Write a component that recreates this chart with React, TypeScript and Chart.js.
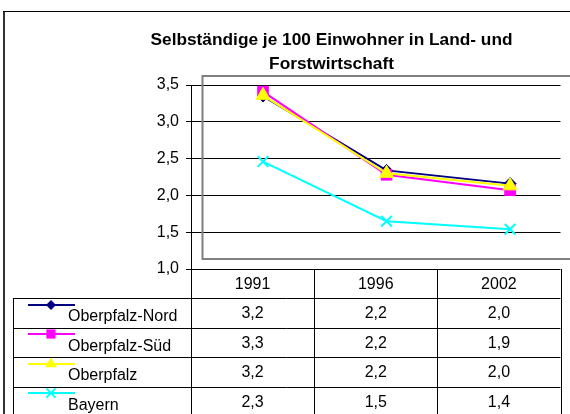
import React, { useEffect, useRef } from "react";
import { Chart, registerables } from "chart.js";

Chart.register(...registerables);

// ---- data ----
const categories = ["1991", "1996", "2002"];
const seriesNames = ["Oberpfalz-Nord", "Oberpfalz-Süd", "Oberpfalz", "Bayern"];
const nordValues = [3.35, 2.34, 2.16];
const suedValues = [3.41, 2.28, 2.07];
const oberpfalzValues = [3.36, 2.3, 2.13];
const bayernValues = [2.46, 1.65, 1.54];
const nordTable = ["3,2", "2,2", "2,0"];
const suedTable = ["3,3", "2,2", "1,9"];
const oberpfalzTable = ["3,2", "2,2", "2,0"];
const bayernTable = ["2,3", "1,5", "1,4"];
const titleLines = ["Selbständige je 100 Einwohner in Land- und", "Forstwirtschaft"];
const yMin = 1.0;
const yMax = 3.5;
const yStep = 0.5;

const seriesValues = [nordValues, suedValues, oberpfalzValues, bayernValues];
const tableValues = [nordTable, suedTable, oberpfalzTable, bayernTable];
const colors = ["#000080", "#FF00FF", "#FFFF00", "#00FFFF"];
const markers = ["rectRot", "rect", "triangle", "crossRot"];
const radii = [6, 7.5, 8, 7.5];

const FONT = "'Liberation Sans', Arial, sans-serif";

function drawMarker(ctx: CanvasRenderingContext2D, style: string, x: number, y: number, r: number, color: string) {
  ctx.save();
  ctx.fillStyle = color;
  ctx.strokeStyle = color;
  ctx.lineWidth = 2;
  ctx.beginPath();
  if (style === "rectRot") {
    ctx.moveTo(x, y - r);
    ctx.lineTo(x + r, y);
    ctx.lineTo(x, y + r);
    ctx.lineTo(x - r, y);
    ctx.closePath();
    ctx.fill();
  } else if (style === "rect") {
    const s = r * Math.SQRT1_2;
    ctx.rect(x - s, y - s, 2 * s, 2 * s);
    ctx.fill();
  } else if (style === "triangle") {
    ctx.moveTo(x, y - r);
    ctx.lineTo(x + r * 0.866, y + r * 0.5);
    ctx.lineTo(x - r * 0.866, y + r * 0.5);
    ctx.closePath();
    ctx.fill();
  } else if (style === "crossRot") {
    const s = r * Math.SQRT1_2;
    ctx.moveTo(x - s, y - s);
    ctx.lineTo(x + s, y + s);
    ctx.moveTo(x - s, y + s);
    ctx.lineTo(x + s, y - s);
    ctx.stroke();
  }
  ctx.restore();
}

const framePlugin = {
  id: "frame",
  beforeDatasetsDraw(chart: any) {
    const ctx = chart.ctx as CanvasRenderingContext2D;
    const a = chart.chartArea;
    ctx.save();
    ctx.strokeStyle = "#808080";
    ctx.lineWidth = 2;
    ctx.strokeRect(a.left + 11.5, a.top - 9, 400, a.bottom - a.top - 1);
    ctx.restore();
  },
  afterDraw(chart: any) {
    const ctx = chart.ctx as CanvasRenderingContext2D;
    const a = chart.chartArea;
    ctx.save();
    // outer border
    ctx.fillStyle = "#333333";
    ctx.fillRect(3, 11, 2, 420);
    ctx.fillStyle = "#000000";
    ctx.fillRect(3, 11, 600, 1);

    // title
    ctx.fillStyle = "#000";
    ctx.font = `bold 17.3px ${FONT}`;
    ctx.textAlign = "center";
    ctx.textBaseline = "alphabetic";
    ctx.fillText(titleLines[0], 331.5, 45);
    ctx.fillText(titleLines[1], 331.5, 69);

    // table
    const left = a.left;
    const right = a.right;
    const colW = (right - left) / categories.length;
    const headerTop = a.bottom;
    const rowH = 29.5;
    const firstRow = headerTop + 29;
    const tableLeft = 13;
    const bottom = firstRow + rowH * seriesNames.length;
    const px = (v: number) => Math.round(v) + 0.5;

    ctx.strokeStyle = "#000";
    ctx.lineWidth = 1;
    ctx.beginPath();
    for (let i = 0; i <= categories.length; i++) {
      const x = px(left + colW * i);
      ctx.moveTo(x, headerTop);
      ctx.lineTo(x, bottom);
    }
    ctx.moveTo(px(tableLeft), firstRow);
    ctx.lineTo(px(tableLeft), bottom);
    for (let r = 0; r <= seriesNames.length; r++) {
      const y = px(firstRow + rowH * r);
      ctx.moveTo(tableLeft, y);
      ctx.lineTo(right, y);
    }
    ctx.stroke();

    ctx.font = `16px ${FONT}`;
    ctx.fillStyle = "#000";
    ctx.textAlign = "center";
    categories.forEach((c, i) => {
      ctx.fillText(c, left + colW * (i + 0.5), headerTop + 20.3);
    });
    seriesNames.forEach((name, r) => {
      const top = firstRow + rowH * r;
      // legend key
      const ly = Math.round(top + 6.5);
      ctx.save();
      ctx.strokeStyle = colors[r];
      ctx.lineWidth = 2;
      ctx.beginPath();
      ctx.moveTo(28, ly);
      ctx.lineTo(75, ly);
      ctx.stroke();
      ctx.restore();
      drawMarker(ctx, markers[r], 51, ly, r === 0 ? 5 : 6.5, colors[r]);
      ctx.fillStyle = "#000";
      ctx.textAlign = "left";
      ctx.fillText(name, 68, top + 23);
      ctx.textAlign = "center";
      tableValues[r].forEach((v, i) => {
        ctx.fillText(v, left + colW * (i + 0.5), top + 20.3);
      });
    });
    ctx.restore();
  },
};

export default function App() {
  const ref = useRef<HTMLCanvasElement>(null);
  useEffect(() => {
    const chart = new Chart(ref.current as HTMLCanvasElement, {
      type: "line",
      data: {
        datasets: seriesNames.map((name, s) => ({
          label: name,
          data: seriesValues[s].map((v, i) => ({ x: i, y: v })),
          borderColor: colors[s],
          backgroundColor: colors[s],
          borderWidth: 2,
          pointStyle: markers[s] as any,
          pointRadius: radii[s],
          pointBorderWidth: s === 3 ? 2 : 1,
          pointBorderColor: colors[s],
          pointBackgroundColor: colors[s],
          fill: false,
          tension: 0,
          order: seriesNames.length - s,
        })),
      },
      options: {
        responsive: false,
        devicePixelRatio: 1,
        animation: false,
        layout: { padding: { left: 131, right: 3, top: 85, bottom: 145 } },
        plugins: {
          legend: { display: false },
          title: { display: false },
          tooltip: { enabled: false },
        },
        scales: {
          x: {
            type: "linear",
            display: false,
            min: -0.583,
            max: 2.408,
          },
          y: {
            type: "linear",
            min: yMin,
            max: yMax,
            afterFit: (s: any) => {
              s.width = 60;
            },
            ticks: {
              stepSize: yStep,
              color: "#000",
              padding: 7,
              font: { family: FONT, size: 16 },
              callback: (v: any) => Number(v).toFixed(1).replace(".", ","),
            },
            grid: {
              color: "#000",
              lineWidth: 1,
              tickLength: 5,
              tickColor: "#000",
            },
            border: { color: "#000", width: 1 },
          },
        },
      },
      plugins: [framePlugin],
    });
    return () => chart.destroy();
  }, []);
  return (
    <div style={{ position: "fixed", left: 0, top: 0, width: 570, height: 414, background: "#fff" }}>
      <canvas ref={ref} width={570} height={414} style={{ display: "block", width: 570, height: 414 }} />
    </div>
  );
}
